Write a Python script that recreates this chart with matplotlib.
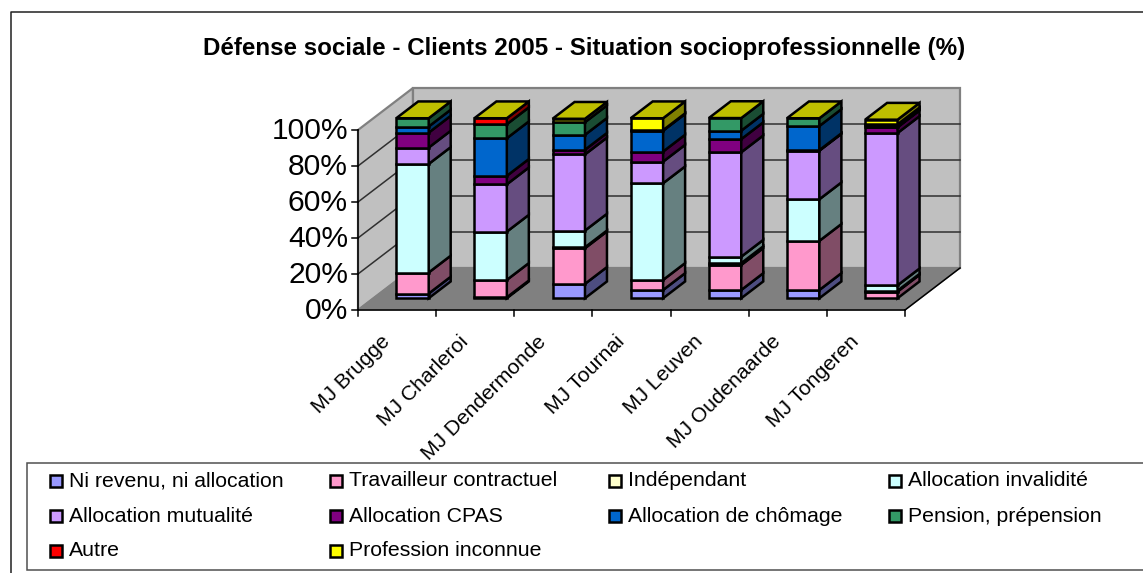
#!/usr/bin/env python
import matplotlib
matplotlib.use("Agg")
import matplotlib.pyplot as plt
from matplotlib.patches import Polygon, Rectangle

plt.rcParams["font.family"] = ["Liberation Sans", "DejaVu Sans"]

title = "Défense sociale - Clients 2005 - Situation socioprofessionnelle (%)"
categories = ["MJ Brugge", "MJ Charleroi", "MJ Dendermonde", "MJ Tournai",
              "MJ Leuven", "MJ Oudenaarde", "MJ Tongeren"]
y_ticks = [0, 20, 40, 60, 80, 100]

series_names = ["Ni revenu, ni allocation", "Travailleur contractuel", "Indépendant",
                "Allocation invalidité", "Allocation mutualité", "Allocation CPAS",
                "Allocation de chômage", "Pension, prépension", "Autre", "Profession inconnue"]
colors = ["#9999FF", "#FF99CC", "#FFFFCC", "#CCFFFF", "#CC99FF",
          "#800080", "#0066CC", "#339966", "#FF0000", "#FFFF00"]

ni_revenu = [2.6, 0.5, 8.0, 4.6, 4.6, 4.6, 0.0]
travailleur = [11.7, 9.7, 19.8, 5.6, 13.9, 27.3, 3.7]
independant = [0.0, 0.0, 0.5, 0.0, 1.0, 0.0, 0.5]
invalidite = [60.3, 26.8, 9.3, 53.7, 3.6, 23.1, 3.0]
mutualite = [9.1, 26.3, 42.3, 12.0, 58.0, 27.0, 84.6]
cpas = [8.3, 4.7, 2.6, 5.6, 7.3, 0.3, 3.2]
chomage = [3.4, 20.9, 8.3, 11.6, 4.7, 13.4, 0.3]
pension = [4.6, 7.8, 7.0, 0.3, 7.0, 4.3, 1.0]
autre = [0.0, 3.3, 0.0, 0.0, 0.0, 0.0, 0.3]
inconnue = [0.0, 0.0, 1.9, 6.6, 0.0, 0.0, 2.6]
series = [ni_revenu, travailleur, independant, invalidite, mutualite,
          cpas, chomage, pension, autre, inconnue]

# plot geometry in pixels (old Excel style 3D box)
X0, Y0 = 358, 310
PLOT_W, PLOT_H = 547, 180
DEPTH_X, DEPTH_Y = 55, -42
BAR_W = 0.415


def proj(cat, val, depth=0.0):
    # cat in category units, val in %, depth 0 (front) to 1 (back)
    x = X0 + cat * PLOT_W / len(categories) + depth * DEPTH_X
    y = Y0 - val * PLOT_H / 100 + depth * DEPTH_Y
    return x, y


def shade(color, f):
    rgb = matplotlib.colors.to_rgb(color)
    return tuple(c * f for c in rgb)


fig = plt.figure(figsize=(11.43, 5.73), dpi=100)
ax = fig.add_axes([0, 0, 1, 1])
ax.set_xlim(0, 1143)
ax.set_ylim(573, 0)
ax.axis("off")

# chart frame
ax.plot([1143, 11, 11], [12, 12, 573], color="#202020", lw=1.1)

n = len(categories)
wall_kw = dict(edgecolor="#808080", lw=1.6)
ax.add_patch(Polygon([proj(0, 0), proj(0, 100), proj(0, 100, 1), proj(0, 0, 1)], facecolor="#C0C0C0", **wall_kw))
ax.add_patch(Polygon([proj(0, 0, 1), proj(0, 100, 1), proj(n, 100, 1), proj(n, 0, 1)], facecolor="#C0C0C0", **wall_kw))
ax.add_patch(Polygon([proj(0, 0), proj(n, 0), proj(n, 0, 1), proj(0, 0, 1)], facecolor="#808080", edgecolor="#808080", lw=1))

for t in y_ticks[1:-1]:
    xs, ys = zip(proj(0, t), proj(0, t, 1), proj(n, t, 1))
    ax.plot(xs, ys, color="#303030", lw=1.1)

# axes and ticks
ax.plot(*zip(proj(0, 100), proj(0, 0), proj(n, 0)), color="black", lw=1.1)
ax.plot(*zip(proj(n, 0), proj(n, 0, 1)), color="black", lw=1.1)
for t in y_ticks:
    x, y = proj(0, t)
    ax.plot([x - 6, x], [y, y], color="black", lw=1.1)
    ax.text(x - 10, y + 1, f"{t}%", ha="right", va="center", fontsize=21.6)
for i in range(n + 1):
    x, y = proj(i, 0)
    ax.plot([x, x], [y, y + 6], color="black", lw=1.1)

# stacked bars
for i in range(n):
    left, right = i + 0.5 - BAR_W / 2, i + 0.5 + BAR_W / 2
    d0, d1 = 0.28, 0.68
    bottom = 0.0
    bar_kw = dict(edgecolor="black", lw=1.8, joinstyle="miter", zorder=5)
    for vals, color in zip(series, colors):
        v = vals[i]
        if v <= 0:
            continue
        top = bottom + v
        ax.add_patch(Polygon([proj(left, bottom, d0), proj(right, bottom, d0),
                              proj(right, top, d0), proj(left, top, d0)],
                             facecolor=color, **bar_kw))
        ax.add_patch(Polygon([proj(right, bottom, d0), proj(right, bottom, d1),
                              proj(right, top, d1), proj(right, top, d0)],
                             facecolor=shade(color, 0.5), **bar_kw))
        bottom = top
    ax.add_patch(Polygon([proj(left, bottom, d0), proj(right, bottom, d0),
                          proj(right, bottom, d1), proj(left, bottom, d1)],
                         facecolor=shade(colors[-1], 0.75), **bar_kw))
    # category label, rotated, ending under the tick centre
    x, y = proj(i + 0.5, 0)
    ax.text(x - 17, y + 22, categories[i], rotation=45, ha="right", va="top",
            rotation_mode="anchor", fontsize=15.1)

ax.text(584, 48, title, ha="center", va="center", fontsize=17.4, fontweight="bold")

# legend
ax.add_patch(Rectangle((27, 463), 1200, 107, facecolor="white", edgecolor="#505050", lw=1.1))
col_x = [50, 330, 609, 889]
row_y = [481, 516, 551]
for k, (name, color) in enumerate(zip(series_names, colors)):
    x, y = col_x[k % 4], row_y[k // 4]
    ax.add_patch(Rectangle((x, y - 6), 12, 12, facecolor=color, edgecolor="black", lw=1.8))
    ax.text(x + 19, y, name, ha="left", va="center", fontsize=15.3)

fig.savefig("out.png", dpi=100)
